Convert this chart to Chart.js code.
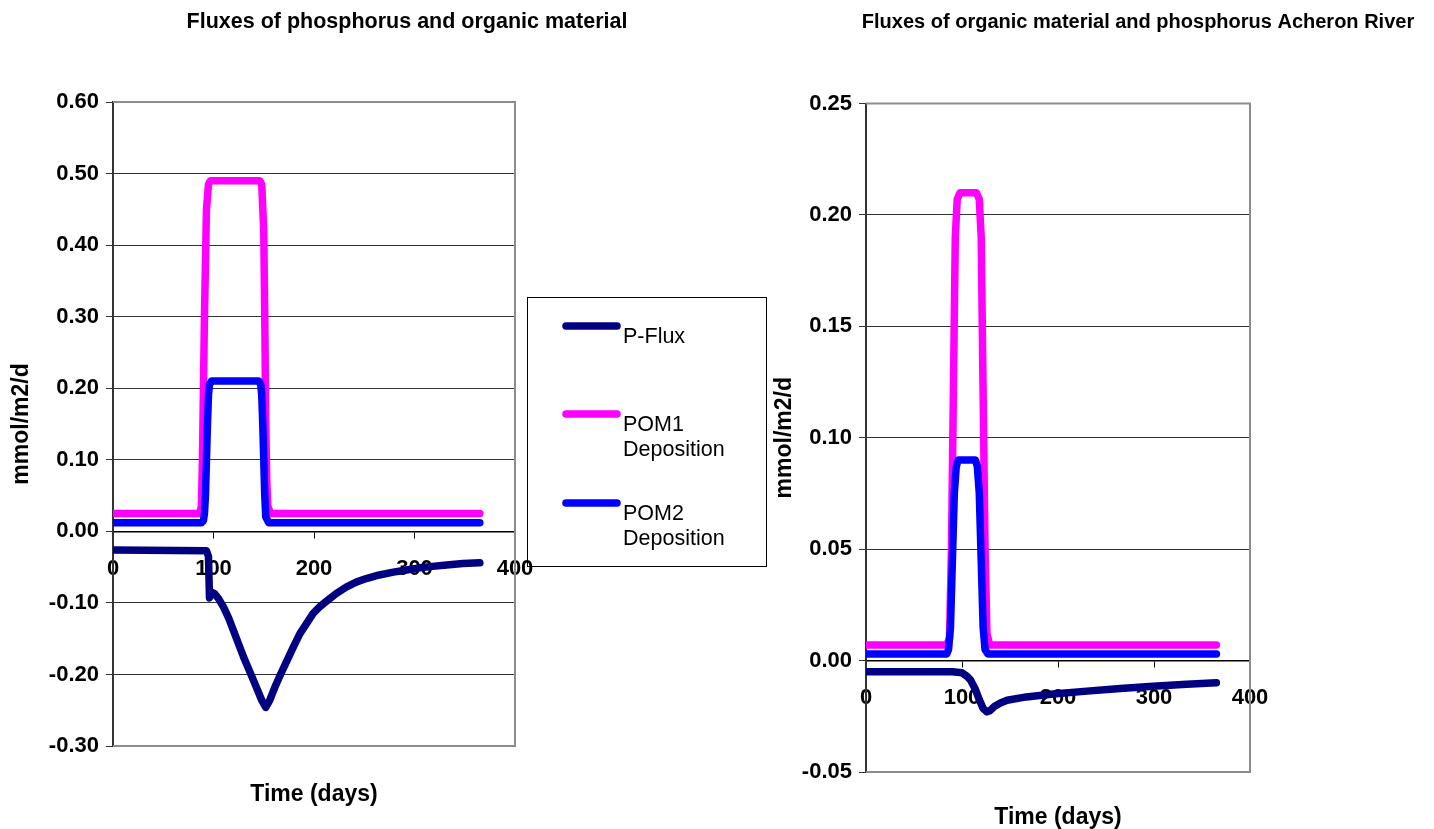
<!DOCTYPE html>
<html>
<head>
<meta charset="utf-8">
<title>Fluxes of phosphorus and organic material</title>
<script src="https://cdn.jsdelivr.net/npm/chart.js@4.4.1/dist/chart.umd.min.js"></script>
<style>
  html, body { margin: 0; padding: 0; background: #fff; overflow: hidden; width: 1434px; height: 829px; }
  canvas { position: absolute; top: 0; }
  #lakeChart { left: 0; }
  #riverChart { left: 770px; }
</style>
</head>
<body>
<canvas id="lakeChart" width="814" height="845"></canvas>
<canvas id="riverChart" width="736" height="845"></canvas>
<script>
// ---- lake (left panel) ----
const lakePFluxDays = [0, 93, 95, 96, 98, 101, 105, 110, 115, 120, 130, 140, 148, 152, 156, 161, 167, 173, 180, 186, 193, 199, 206, 213, 222, 232, 242, 252, 265, 279, 292, 305, 318, 332, 348, 365];
const lakePFlux = [-0.026, -0.027, -0.035, -0.093, -0.085, -0.087, -0.094, -0.106, -0.121, -0.139, -0.176, -0.209, -0.236, -0.246, -0.236, -0.218, -0.199, -0.181, -0.16, -0.143, -0.128, -0.115, -0.105, -0.097, -0.087, -0.078, -0.071, -0.066, -0.061, -0.057, -0.054, -0.051, -0.049, -0.047, -0.045, -0.044];

const lakePom1Days = [0, 86, 88, 89, 90, 91, 93, 95, 97, 146, 148, 150, 151, 152, 153, 154, 157, 365];
const lakePom1 = [0.025, 0.025, 0.035, 0.1, 0.2, 0.3, 0.45, 0.485, 0.49, 0.49, 0.485, 0.42, 0.3, 0.15, 0.07, 0.035, 0.025, 0.025];

const lakePom2Days = [0, 88, 90, 91, 92, 93, 94, 95, 96, 98, 145, 147, 148, 149, 150, 151, 152, 155, 365];
const lakePom2 = [0.012, 0.012, 0.015, 0.025, 0.05, 0.1, 0.15, 0.19, 0.205, 0.21, 0.21, 0.205, 0.19, 0.15, 0.1, 0.05, 0.02, 0.012, 0.012];

// ---- Acheron River (right panel) ----
const riverPFluxDays = [0, 90, 100, 105, 109, 114, 118, 122, 126, 129, 134, 140, 147, 167, 195, 230, 265, 299, 334, 365];
const riverPFlux = [-0.005, -0.005, -0.0055, -0.007, -0.0088, -0.013, -0.0175, -0.0215, -0.023, -0.0225, -0.0205, -0.019, -0.0178, -0.0163, -0.015, -0.0137, -0.0125, -0.0115, -0.0106, -0.010];

const riverPom1Days = [0, 84, 87, 89, 91, 93, 95, 98, 115, 118, 120, 122, 124, 126, 129, 365];
const riverPom1 = [0.007, 0.007, 0.01, 0.05, 0.12, 0.19, 0.207, 0.21, 0.21, 0.207, 0.19, 0.12, 0.05, 0.012, 0.007, 0.007];

const riverPom2Days = [0, 84, 86, 88, 90, 92, 94, 96, 98, 114, 116, 118, 120, 122, 124, 127, 365];
const riverPom2 = [0.003, 0.003, 0.005, 0.015, 0.045, 0.075, 0.087, 0.09, 0.09, 0.09, 0.087, 0.075, 0.045, 0.015, 0.005, 0.003, 0.003];

const seriesNames = ['P-Flux', 'POM1 Deposition', 'POM2 Deposition'];
const seriesColors = ['#000080', '#FF00FF', '#0000FF'];

const FONT = '"Liberation Sans", Arial, Helvetica, sans-serif';
Chart.defaults.font.family = FONT;
Chart.defaults.color = '#000';

function points(days, values) {
  return days.map((d, i) => ({ x: d, y: values[i] }));
}

// POM2 is drawn on top of POM1, as in the spreadsheet output
function makeDatasets(pflux, pom1, pom2) {
  return [pflux, pom1, pom2].map((data, i) => ({
    label: seriesNames[i],
    data: data,
    borderColor: seriesColors[i],
    backgroundColor: seriesColors[i],
    borderWidth: 7.5,
    borderCapStyle: 'round',
    borderJoinStyle: 'round',
    pointRadius: 0,
    showLine: true,
    tension: 0,
    order: 2 - i,
    xAxisID: 'x',
    yAxisID: 'y'
  }));
}

// grey frame on top/right/bottom of the plot area, the y axis keeps the dark left edge
const plotFrame = {
  id: 'plotFrame',
  beforeDatasetsDraw(chart) {
    const { ctx, chartArea: a } = chart;
    ctx.save();
    ctx.strokeStyle = '#8c8c8c';
    ctx.lineWidth = 2;
    ctx.beginPath();
    ctx.moveTo(a.left, a.top);
    ctx.lineTo(a.right, a.top);
    ctx.lineTo(a.right, a.bottom);
    ctx.lineTo(a.left, a.bottom);
    ctx.stroke();
    ctx.restore();
  }
};

// boxed legend with the long names wrapped onto two lines
const boxLegend = {
  id: 'boxLegend',
  afterDraw(chart, args, opts) {
    const ctx = chart.ctx;
    ctx.save();
    ctx.strokeStyle = '#000';
    ctx.lineWidth = 1;
    ctx.strokeRect(opts.left + 0.5, opts.top + 0.5, opts.width, opts.height);
    ctx.font = '21.5px ' + FONT;
    ctx.textAlign = 'left';
    ctx.textBaseline = 'alphabetic';
    chart.data.datasets.forEach((ds, i) => {
      const y = opts.rows[i];
      ctx.strokeStyle = ds.borderColor;
      ctx.lineWidth = ds.borderWidth;
      ctx.lineCap = 'round';
      ctx.beginPath();
      ctx.moveTo(opts.lineX1, y);
      ctx.lineTo(opts.lineX2, y);
      ctx.stroke();
      ctx.fillStyle = '#000';
      ds.label.split(' ').forEach((word, k) => {
        ctx.fillText(word, opts.textX, y + 16.5 + k * 25);
      });
    });
    ctx.restore();
  }
};

function fluxOptions(o) {
  const tickFont = { size: 22, weight: 'bold' };
  const titleFont = { size: 23, weight: 'bold' };
  return {
    responsive: false,
    animation: false,
    events: [],
    layout: { padding: 0 },
    plugins: {
      legend: { display: false },
      tooltip: { enabled: false },
      title: {
        display: true,
        text: o.title,
        color: '#000',
        font: { size: o.titleSize, weight: 'bold' },
        padding: { top: o.titleTop, bottom: o.titleGap }
      },
      boxLegend: o.legend || false
    },
    scales: {
      x: {
        type: 'linear',
        axis: 'x',
        position: { y: 0 },
        min: 0,
        max: 400,
        z: 1,
        ticks: { stepSize: 100, color: '#000', font: tickFont, padding: 18.3, maxRotation: 0 },
        grid: { drawOnChartArea: false, color: '#000', tickLength: 6 },
        border: { color: '#000', width: 1.5 }
      },
      xTitle: {
        type: 'linear',
        axis: 'x',
        position: 'bottom',
        afterFit(scale) { scale.height = o.bottomH; },
        ticks: { display: false },
        grid: { display: false },
        border: { display: false },
        title: { display: true, text: 'Time (days)', color: '#000', font: titleFont, padding: { top: 0, bottom: o.xTitlePad } }
      },
      y: {
        type: 'linear',
        axis: 'y',
        position: 'left',
        min: o.yMin,
        max: o.yMax,
        afterFit(scale) { scale.width = o.leftW; },
        ticks: {
          stepSize: o.yStep,
          color: '#000',
          font: tickFont,
          padding: 7,
          callback: v => (Math.abs(v) < 1e-9 ? 0 : v).toFixed(2)
        },
        grid: { color: '#333', tickLength: 7 },
        border: { color: '#333', width: 2 },
        title: { display: true, text: 'mmol/m2/d', color: '#000', font: titleFont, padding: { top: o.yTitlePad, bottom: 0 } }
      },
      yPad: {
        type: 'linear',
        axis: 'y',
        position: 'right',
        afterFit(scale) { scale.width = o.rightW; },
        ticks: { display: false },
        grid: { display: false },
        border: { display: false }
      }
    }
  };
}

new Chart(document.getElementById('lakeChart'), {
  type: 'scatter',
  data: {
    datasets: makeDatasets(
      points(lakePFluxDays, lakePFlux),
      points(lakePom1Days, lakePom1),
      points(lakePom2Days, lakePom2)
    )
  },
  options: fluxOptions({
    title: 'Fluxes of phosphorus and organic material',
    titleSize: 21.5, titleTop: 9, titleGap: 67.2,
    yMin: -0.3, yMax: 0.6, yStep: 0.1,
    leftW: 113, rightW: 299, bottomH: 99, xTitlePad: 36.2, yTitlePad: 8.2,
    legend: { left: 527, top: 297, width: 239, height: 269, rows: [326, 414, 503], lineX1: 566, lineX2: 617, textX: 623 }
  }),
  plugins: [plotFrame, boxLegend]
});

new Chart(document.getElementById('riverChart'), {
  type: 'scatter',
  data: {
    datasets: makeDatasets(
      points(riverPFluxDays, riverPFlux),
      points(riverPom1Days, riverPom1),
      points(riverPom2Days, riverPom2)
    )
  },
  options: fluxOptions({
    title: 'Fluxes of organic material and phosphorus Acheron River',
    titleSize: 20, titleTop: 10, titleGap: 69.5,
    yMin: -0.05, yMax: 0.25, yStep: 0.05,
    leftW: 96, rightW: 256, bottomH: 73, xTitlePad: 13.2, yTitlePad: 1.2
  }),
  plugins: [plotFrame, boxLegend]
});
</script>
</body>
</html>
